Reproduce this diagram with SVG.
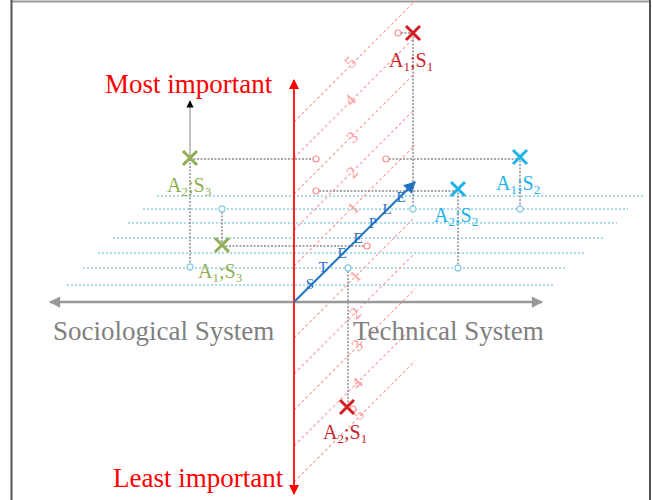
<svg xmlns="http://www.w3.org/2000/svg" width="653" height="500" viewBox="0 0 653 500">
<defs>
<style>
.big{font-family:"Liberation Serif","Times New Roman",serif;font-size:27px}
.lbl{font-family:"Liberation Serif","Times New Roman",serif;font-size:20px}
.sub{font-size:13px}
.num{font-family:"Liberation Serif","Times New Roman",serif;font-size:17px;fill:#ff9c9c;text-anchor:middle}
.stp{font-family:"Liberation Serif","Times New Roman",serif;font-size:15px;fill:#1f72c4;text-anchor:middle}
.hatch{stroke:#ff9a9a;stroke-width:1.1;stroke-dasharray:3 2.5;fill:none}
.blue{stroke:#8fd0e4;stroke-width:1.5;stroke-dasharray:2 2;fill:none}
.gray{stroke:#8c8c8c;stroke-width:1.5;stroke-dasharray:2 1.5;fill:none}
.pc{fill:#fff;stroke:#ff9090;stroke-width:1.2}
.bc{fill:#fff;stroke:#8fd0e4;stroke-width:1.3}
.x{stroke-width:3;fill:none}
.s1{fill:#c8262c}.s1x{stroke:#d11e24}
.s2{fill:#1eb2e8}.s2x{stroke:#1eb2e8}
.s3{fill:#8fb052}.s3x{stroke:#8fb052}
</style>
<marker id="ar" viewBox="0 0 10 10" refX="9" refY="5" markerWidth="7" markerHeight="5" markerUnits="strokeWidth" orient="auto"><path d="M0,0L10,5L0,10z" fill="#ff0000"/></marker>
<marker id="ag" viewBox="0 0 10 10" refX="9" refY="5" markerWidth="6" markerHeight="4.5" markerUnits="strokeWidth" orient="auto"><path d="M0,0L10,5L0,10z" fill="#999"/></marker>
<marker id="ab" viewBox="0 0 10 10" refX="9" refY="5" markerWidth="7" markerHeight="6" markerUnits="strokeWidth" orient="auto"><path d="M0,0L10,5L0,10z" fill="#1f72c4"/></marker>
<marker id="ak" viewBox="0 0 10 10" refX="9" refY="5" markerWidth="7" markerHeight="6" markerUnits="strokeWidth" orient="auto"><path d="M0,0L10,5L0,10z" fill="#000"/></marker>
<path id="xm" d="M-7,-7L7,7M7,-7L-7,7"/>
<clipPath id="band"><rect x="294" y="0" width="121" height="500"/></clipPath>
</defs>
<rect width="653" height="500" fill="#fff"/>
<g id="frame">
<line x1="11" y1="1.5" x2="651" y2="1.5" stroke="#9a9a9a" stroke-width="2"/>
<line x1="11.5" y1="0" x2="11.5" y2="500" stroke="#555" stroke-width="2"/>
<line x1="650" y1="0" x2="650" y2="500" stroke="#555" stroke-width="2"/>
</g>
<g id="blue-levels">
<line class="blue" x1="157" y1="196" x2="643" y2="196"/>
<line class="blue" x1="143" y1="209" x2="628" y2="209"/>
<line class="blue" x1="128" y1="223" x2="617" y2="223"/>
<line class="blue" x1="113" y1="238" x2="603" y2="238"/>
<line class="blue" x1="98" y1="253" x2="586" y2="253"/>
<line class="blue" x1="83" y1="268" x2="567" y2="268"/>
<line class="blue" x1="67" y1="285" x2="555" y2="285"/>
</g>
<g id="hatch" clip-path="url(#band)">
<line class="hatch" x1="294" y1="122" x2="416" y2="0"/>
<line class="hatch" x1="294" y1="158" x2="416" y2="36"/>
<line class="hatch" x1="294" y1="194" x2="416" y2="72"/>
<line class="hatch" x1="294" y1="230" x2="416" y2="108"/>
<line class="hatch" x1="294" y1="266" x2="416" y2="144"/>
<line class="hatch" x1="294" y1="338" x2="416" y2="216"/>
<line class="hatch" x1="294" y1="374" x2="416" y2="252"/>
<line class="hatch" x1="294" y1="410" x2="416" y2="288"/>
<line class="hatch" x1="294" y1="446" x2="416" y2="324"/>
<line class="hatch" x1="294" y1="482" x2="416" y2="360"/>
</g>
<g id="scale">
<text class="num" transform="translate(350,62) rotate(-45)" y="6">5</text>
<text class="num" transform="translate(350,100) rotate(-45)" y="6">4</text>
<text class="num" transform="translate(352,137) rotate(-45)" y="6">3</text>
<text class="num" transform="translate(352,172) rotate(-45)" y="6">2</text>
<text class="num" transform="translate(353,208) rotate(-45)" y="6">1</text>
<text class="num" transform="translate(355,276) rotate(-45)" y="6">1</text>
<text class="num" transform="translate(355,313) rotate(-45)" y="6">2</text>
<text class="num" transform="translate(357,345) rotate(-45)" y="6">3</text>
<text class="num" transform="translate(357,383) rotate(-45)" y="6">4</text>
<text class="num" transform="translate(358,414) rotate(-45)" y="6">5</text>
</g>
<g id="connectors">
<line class="gray" x1="401" y1="33" x2="413" y2="33"/>
<line class="gray" x1="413" y1="33" x2="413" y2="206"/>
<line class="gray" x1="190" y1="159" x2="313" y2="159"/>
<line class="gray" x1="190" y1="159" x2="190" y2="264"/>
<line class="gray" x1="389" y1="159" x2="520" y2="159"/>
<line class="gray" x1="520" y1="157" x2="520" y2="206"/>
<line class="gray" x1="319" y1="191" x2="458" y2="191"/>
<line class="gray" x1="458" y1="189" x2="458" y2="265"/>
<line class="gray" x1="222" y1="212" x2="222" y2="245"/>
<line class="gray" x1="222" y1="246" x2="364" y2="246"/>
<line class="gray" x1="348" y1="271" x2="348" y2="407"/>
<line x1="190" y1="158" x2="190" y2="101" stroke="#999" stroke-width="1.2" marker-end="url(#ak)"/>
</g>
<g id="circles">
<circle class="pc" cx="398" cy="33" r="3"/>
<circle class="pc" cx="316" cy="159" r="3"/>
<circle class="pc" cx="386" cy="159" r="3"/>
<circle class="pc" cx="316" cy="191" r="3"/>
<circle class="pc" cx="367" cy="246" r="3"/>
<circle class="pc" cx="353" cy="409" r="3"/>
<circle class="bc" cx="413" cy="209" r="3"/>
<circle class="bc" cx="520" cy="209" r="3"/>
<circle class="bc" cx="458" cy="268" r="3"/>
<circle class="bc" cx="190" cy="267" r="3"/>
<circle class="bc" cx="222" cy="209" r="3"/>
<circle class="bc" cx="348" cy="268" r="3"/>
</g>
<g id="axes">
<line x1="294" y1="302" x2="50" y2="302" stroke="#999" stroke-width="2.5" marker-end="url(#ag)"/>
<line x1="294" y1="302" x2="542" y2="302" stroke="#999" stroke-width="2.5" marker-end="url(#ag)"/>
<line x1="294" y1="300" x2="294" y2="80" stroke="#ff2020" stroke-width="2" marker-end="url(#ar)"/>
<line x1="294" y1="300" x2="294" y2="494" stroke="#ff2020" stroke-width="2" marker-end="url(#ar)"/>
<text class="big" x="105" y="93" fill="#ff0000">Most important</text>
<text class="big" x="113" y="487" fill="#ff0000">Least important</text>
<text class="big" x="53" y="340" fill="#808080">Sociological System</text>
<text class="big" x="353" y="340" fill="#808080">Technical System</text>
</g>
<g id="steeple">
<line x1="294" y1="302" x2="415" y2="182" stroke="#1f72c4" stroke-width="2" marker-end="url(#ab)"/>
<text class="stp" x="310" y="289">S</text>
<text class="stp" x="323" y="272">T</text>
<text class="stp" x="342" y="258">E</text>
<text class="stp" x="358" y="243">E</text>
<text class="stp" x="373" y="228">P</text>
<text class="stp" x="387" y="214">L</text>
<text class="stp" x="401" y="202">E</text>
</g>
<g id="A1S1">
<use href="#xm" x="413" y="33" class="x s1x"/>
<text class="lbl s1" x="389" y="67">A<tspan class="sub" dy="4">1</tspan><tspan dy="-4">;S</tspan><tspan class="sub" dy="4">1</tspan></text>
</g>
<g id="A2S1">
<use href="#xm" x="347" y="407" class="x s1x"/>
<text class="lbl s1" x="323" y="439">A<tspan class="sub" dy="4">2</tspan><tspan dy="-4">;S</tspan><tspan class="sub" dy="4">1</tspan></text>
</g>
<g id="A1S2">
<use href="#xm" x="520" y="157" class="x s2x"/>
<text class="lbl s2" x="496" y="190">A<tspan class="sub" dy="4">1</tspan><tspan dy="-4">;S</tspan><tspan class="sub" dy="4">2</tspan></text>
</g>
<g id="A2S2">
<use href="#xm" x="458" y="189" class="x s2x"/>
<text class="lbl s2" x="434" y="222">A<tspan class="sub" dy="4">2</tspan><tspan dy="-4">;S</tspan><tspan class="sub" dy="4">2</tspan></text>
</g>
<g id="A2S3">
<use href="#xm" x="190" y="158" class="x s3x"/>
<text class="lbl s3" x="167" y="192">A<tspan class="sub" dy="4">2</tspan><tspan dy="-4">;S</tspan><tspan class="sub" dy="4">3</tspan></text>
</g>
<g id="A1S3">
<use href="#xm" x="222" y="245" class="x s3x"/>
<text class="lbl s3" x="198" y="278">A<tspan class="sub" dy="4">1</tspan><tspan dy="-4">;S</tspan><tspan class="sub" dy="4">3</tspan></text>
</g>
</svg>
